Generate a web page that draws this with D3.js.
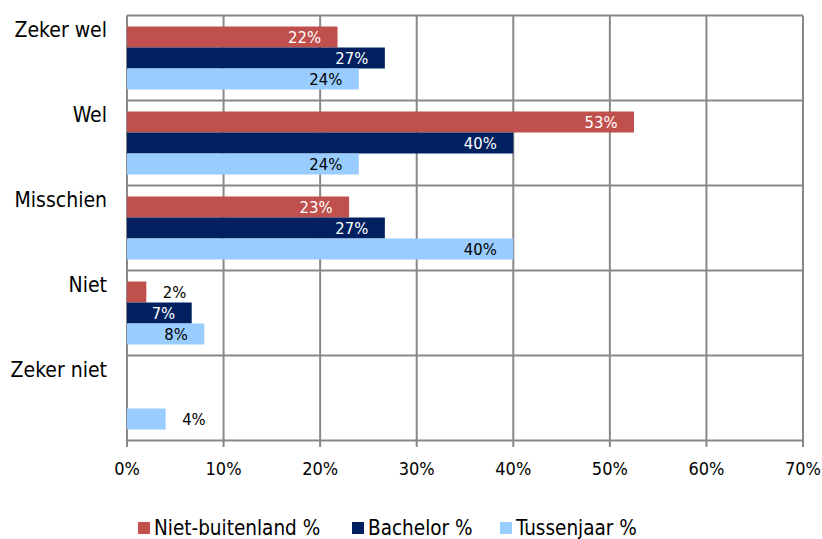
<!DOCTYPE html>
<html>
<head>
<meta charset="utf-8">
<script src="https://cdn.jsdelivr.net/npm/d3@7"></script>
<style>
  body { margin: 0; background: #fff; }
  svg text { font-family: "DejaVu Sans Condensed", "DejaVu Sans", sans-serif; font-stretch: condensed; }
</style>
</head>
<body>
<div class="chart"></div>
<script>
var categories     = ['Zeker wel', 'Wel', 'Misschien', 'Niet', 'Zeker niet'];
var seriesNames    = ['Niet-buitenland %', 'Bachelor %', 'Tussenjaar %'];
var nietBuitenland = [21.8, 52.5, 23, 2, 0];
var bachelor       = [26.7, 40, 26.7, 6.7, 0];
var tussenjaar     = [24, 24, 40, 8, 4];
var xTicks         = [0, 10, 20, 30, 40, 50, 60, 70];

var colors     = ['#C0504D', '#002060', '#99CCFF'];
var textColors = ['#ffffff', '#ffffff', '#000000'];
var gridColor  = '#888888';

var series = [nietBuitenland, bachelor, tussenjaar];

var svg = d3.select('.chart')
            .append('svg')
            .attr('width', 822)
            .attr('height', 539);

var plotLeft = 127, plotRight = 803, plotTop = 15.5, plotBottom = 440.5;

var x = d3.scaleLinear().domain([0, 70]).range([plotLeft, plotRight]);

var y = d3.scaleBand()
          .domain(categories)
          .range([plotTop, plotBottom]);

var yInner = d3.scaleBand()
               .domain(d3.range(seriesNames.length))
               .range([11, y.bandwidth() - 11]);

// vertical gridlines (running a bit below the plot as tick marks)
svg.append('g')
   .selectAll('line')
   .data(xTicks)
   .enter().append('line')
   .attr('x1', function(d) { return x(d); })
   .attr('x2', function(d) { return x(d); })
   .attr('y1', plotTop)
   .attr('y2', plotBottom + 6.5)
   .attr('stroke', gridColor)
   .attr('stroke-width', 2);

// horizontal category separators
svg.append('g')
   .selectAll('line')
   .data(categories)
   .enter().append('line')
   .attr('x1', plotLeft)
   .attr('x2', plotRight)
   .attr('y1', function(d) { return y(d); })
   .attr('y2', function(d) { return y(d); })
   .attr('stroke', gridColor)
   .attr('stroke-width', 2);

svg.append('line')
   .attr('x1', plotLeft).attr('x2', plotRight)
   .attr('y1', plotBottom).attr('y2', plotBottom)
   .attr('stroke', gridColor)
   .attr('stroke-width', 2);

// x axis labels
svg.append('g')
   .selectAll('text')
   .data(xTicks)
   .enter().append('text')
   .attr('x', function(d) { return x(d); })
   .attr('y', 475)
   .attr('text-anchor', 'middle')
   .attr('font-size', '18px')
   .attr('fill', '#000')
   .text(function(d) { return d + '%'; });

// category labels
svg.append('g')
   .selectAll('text')
   .data(categories)
   .enter().append('text')
   .attr('x', 107)
   .attr('y', function(d) { return y(d) + 21.5; })
   .attr('text-anchor', 'end')
   .attr('font-size', '21px')
   .attr('fill', '#000')
   .text(function(d) { return d; });

// bars
var groups = svg.append('g')
   .selectAll('g')
   .data(series)
   .enter().append('g');

groups.each(function(vals, si) {
  var g = d3.select(this);
  var rows = vals.map(function(v, i) { return { v: v, cat: categories[i] }; })
                 .filter(function(d) { return d.v > 0; });

  g.selectAll('rect')
   .data(rows)
   .enter().append('rect')
   .attr('x', x(0))
   .attr('y', function(d) { return y(d.cat) + yInner(si); })
   .attr('width', function(d) { return x(d.v) - x(0); })
   .attr('height', yInner.bandwidth())
   .attr('fill', colors[si]);

  g.selectAll('text')
   .data(rows)
   .enter().append('text')
   .attr('x', function(d) { return d.v >= 5 ? x(d.v) - 16.5 : x(d.v) + 16.5; })
   .attr('y', function(d) { return y(d.cat) + yInner(si) + yInner.bandwidth() / 2; })
   .attr('dy', '0.36em')
   .attr('text-anchor', function(d) { return d.v >= 5 ? 'end' : 'start'; })
   .attr('font-size', '16.5px')
   .attr('fill', function(d) { return d.v >= 5 ? textColors[si] : '#000'; })
   .text(function(d) { return Math.round(d.v) + '%'; });
});

// legend
var legendX = [138, 352, 500];
var legend = svg.append('g')
   .selectAll('g')
   .data(seriesNames)
   .enter().append('g')
   .attr('transform', function(d, i) { return 'translate(' + legendX[i] + ',522)'; });

legend.append('rect')
   .attr('width', 12)
   .attr('height', 12)
   .attr('fill', function(d, i) { return colors[i]; });

legend.append('text')
   .attr('x', 16)
   .attr('y', 12.5)
   .attr('font-size', '20.5px')
   .attr('fill', '#000')
   .text(function(d) { return d; });
</script>
</body>
</html>
